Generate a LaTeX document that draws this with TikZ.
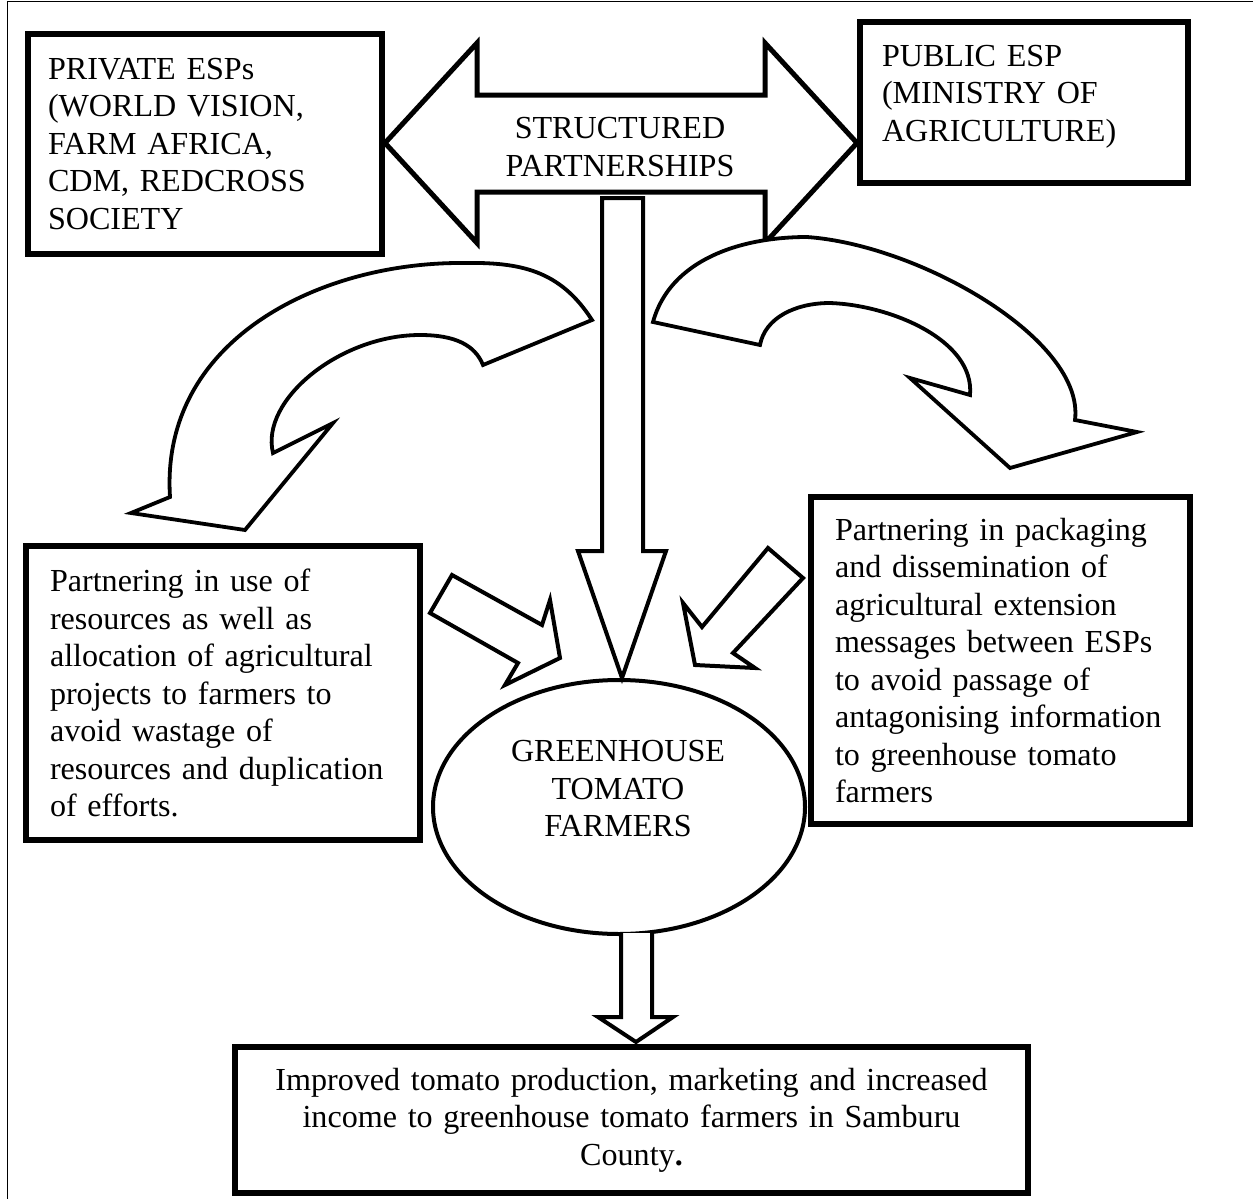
\documentclass[tikz,border=0pt]{standalone}
\usepackage{fontspec}
\setmainfont{Liberation Serif}
\usepackage{tikz}
\usetikzlibrary{shapes.geometric}

\newcommand{\labelsize}{\fontsize{32.1}{37.5}\selectfont}

\begin{document}
\begin{tikzpicture}[x=1pt,y=-1pt,
		espbox/.style={draw,line width=5.5pt,inner xsep=22pt,inner ysep=0pt,align=left,font=\labelsize},
		blockarrow/.style={draw,line width=4pt,fill=white,line join=miter},
		bendarrow/.style={draw,line width=3.8pt,fill=white}]
		\useasboundingbox (0,0) rectangle (1253,1199);
		% page frame
		\draw[line width=1.3pt] (7.5,1199) -- (7.5,1.5) -- (1253,1.5);

		% two-way arrow between the providers
		\draw[blockarrow,line width=5pt] (385,143) -- (477,43) -- (477,95) -- (765,95) -- (765,43) -- (857,143) -- (765,243) -- (765,192) -- (477,192) -- (477,243) -- cycle;
		\node[font=\labelsize,align=center] (partner) at (620,147) {STRUCTURED\\PARTNERSHIPS};
		\draw[blockarrow] (602,198) -- (602,551) -- (578,551) -- (622,678) -- (666,551) -- (643,551) -- (643,198) -- cycle;

		% bent arrows
		\draw[bendarrow] (592,320) .. controls (560,270) and (520,262) .. (463,263)
			.. controls (320,262) and (160,340) .. (170,497)
			-- (131,513) -- (245,530) -- (333,423) -- (273,453)
			.. controls (260,400) and (340,335) .. (420,335)
			.. controls (455,335) and (475,345) .. (483,365) -- cycle;
		\draw[bendarrow] (653,322) .. controls (670,260) and (740,237) .. (807,237)
			.. controls (920,245) and (1085,340) .. (1075,420)
			-- (1137,432) -- (1010,468) -- (910,378) -- (970,395)
			.. controls (975,340) and (890,305) .. (830,303)
			.. controls (795,303) and (765,318) .. (760,345) -- cycle;

		% providers
		\node[espbox,inner xsep=20pt,text width=314pt,minimum width=354pt,minimum height=220pt] (private) at (205,144) {PRIVATE ESPs\\(WORLD VISION,\\FARM AFRICA,\\CDM, REDCROSS\\SOCIETY};
		\node[espbox,text width=284pt,text depth=94pt,minimum width=328pt,minimum height=161pt] (public) at (1024,102.5) {PUBLIC ESP\\(MINISTRY OF\\AGRICULTURE)};

		% roles
		\node[espbox,inner xsep=24pt,text width=346pt,minimum width=394pt,minimum height=294pt] (resources) at (223,693) {Partnering in use of\\resources as well as\\allocation of agricultural\\projects to farmers to\\avoid wastage of\\resources and duplication\\of efforts.};
		\node[espbox,inner xsep=24pt,text width=331pt,minimum width=379pt,minimum height=327pt] (messages) at (1000.5,660.5) {Partnering in packaging\\and dissemination of\\agricultural extension\\messages between ESPs\\to avoid passage of\\antagonising information\\to greenhouse tomato\\farmers};
		\draw[blockarrow] (452,575) -- (542,625) -- (550,600) -- (560,658) -- (505,685) -- (518,663) -- (430,613) -- cycle;
		\draw[blockarrow] (768,548) -- (803,578) -- (733,653) -- (755,668) -- (695,665) -- (683,603) -- (702,627) -- cycle;

		% farmers and outcome
		\node[draw,ellipse,line width=4pt,minimum width=372pt,minimum height=254pt,inner sep=0pt] (farmers) at (619,807) {};
		\node[font=\labelsize,align=center] (farmerslabel) at (618,789) {GREENHOUSE\\TOMATO\\FARMERS};
		\draw[blockarrow] (621,933) -- (621,1017) -- (598,1017) -- (636,1042) -- (673,1017) -- (652,1017) -- (652,933);
		\node[espbox,align=center,inner xsep=20pt,text width=753pt,minimum width=793pt,minimum height=146pt] (outcome) at (631.5,1120) {Improved tomato production, marketing and increased\\income to greenhouse tomato farmers in Samburu\\County\textbf{.}};
	\end{tikzpicture}
\end{document}
